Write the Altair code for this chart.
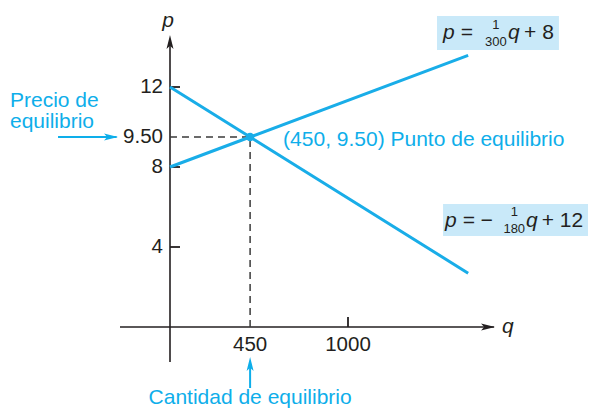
import altair as alt
import pandas as pd

# ---- data ----
q_supply = [0, 450, 1675]
p_supply = [8.0, 9.5, 13.58]
q_demand = [0, 450, 1675]
p_demand = [12.0, 9.5, 2.69]
p_tick_vals = [4, 8, 12]
p_label_vals = [12, 9.5, 8, 4]
p_label_txt = ["12", "9.50", "8", "4"]
q_tick_vals = [1000]
q_label_vals = [450, 1000]
q_label_txt = ["450", "1000"]
eq_q, eq_p = 450, 9.5

BLUE = "#19ade8"
TBLUE = "#0eaeea"
INK = "#231f20"
BOX = "#c9e9f9"
FONT = "Liberation Sans"
ARROW = "M1,0L-1,-0.5L-0.55,0L-1,0.5Z"

W, H = 580, 404
XS = alt.Scale(domain=[-910.11, 2348.31], nice=False, zero=False)
YS = alt.Scale(domain=[-4.25, 15.95], nice=False, zero=False)


def X(f):
    return alt.X(f, type="quantitative", scale=XS, axis=None)


def Y(f):
    return alt.Y(f, type="quantitative", scale=YS, axis=None)


def XD(v):
    return alt.XDatum(datum=v, type="quantitative", scale=XS, axis=None)


def YD(v):
    return alt.YDatum(datum=v, type="quantitative", scale=YS, axis=None)


one = pd.DataFrame({"k": [0]})


def base():
    return alt.Chart(one)


def text(t, q, p, size=21, color=INK, align="left", style="normal", dx=0, dy=0):
    return base().mark_text(
        text=t, font=FONT, fontSize=size, color=color, align=align,
        baseline="middle", fontStyle=style, dx=dx, dy=dy
    ).encode(x=XD(q), y=YD(p))


def hrule(q1, q2, p, color=INK, width=1.5, dash=None):
    kw = dict(color=color, strokeWidth=width)
    if dash:
        kw["strokeDash"] = dash
    return base().mark_rule(**kw).encode(x=XD(q1), x2=alt.X2Datum(datum=q2), y=YD(p))


def vrule(q, p1, p2, color=INK, width=1.5, dash=None):
    kw = dict(color=color, strokeWidth=width)
    if dash:
        kw["strokeDash"] = dash
    return base().mark_rule(**kw).encode(x=XD(q), y=YD(p1), y2=alt.Y2Datum(datum=p2))


def head(q, p, color, angle=0, r=7, xo=0, yo=0):
    return base().mark_point(
        shape=ARROW, filled=True, color=color, size=(2 * r) ** 2, opacity=1,
        angle=angle, xOffset=xo, yOffset=yo, strokeWidth=0
    ).encode(x=XD(q), y=YD(p))


def box(q1, q2, p1, p2):
    return base().mark_rect(color=BOX).encode(
        x=XD(q1), x2=alt.X2Datum(datum=q2), y=YD(p1), y2=alt.Y2Datum(datum=p2)
    )


supply = pd.DataFrame({"q": q_supply, "p": p_supply})
demand = pd.DataFrame({"q": q_demand, "p": p_demand})
yt = pd.DataFrame({"p": p_tick_vals, "q": [0] * len(p_tick_vals)})
xt = pd.DataFrame({"q": q_tick_vals, "p": [0] * len(q_tick_vals)})
ylab = pd.DataFrame({"p": p_label_vals, "t": p_label_txt})
xlab = pd.DataFrame({"q": q_label_vals, "t": q_label_txt})
eq = pd.DataFrame({"q": [eq_q], "p": [eq_p]})

layers = [
    box(1500, 2185, 15.55, 13.85),
    box(1534, 2348.31, 6.15, 4.55),
    # axes
    hrule(-281, 1820, 0, width=1.6),
    vrule(0, -1.75, 14.3, width=1.6),
    head(1826, 0, INK, xo=-7),
    head(0, 14.6, INK, angle=270, yo=7),
    alt.Chart(yt).mark_rule(color=INK, strokeWidth=1.8, x2Offset=10).encode(
        x=X("q"), x2="q", y=Y("p")),
    alt.Chart(xt).mark_rule(color=INK, strokeWidth=1.8, y2Offset=-10).encode(
        x=X("q"), y=Y("p"), y2="p"),
    alt.Chart(ylab).mark_text(font=FONT, fontSize=20.5, color=INK, align="right",
                              baseline="middle", dx=-7).encode(
        x=XD(0), y=Y("p"), text="t:N"),
    alt.Chart(xlab).mark_text(font=FONT, fontSize=20.5, color=INK, align="center",
                              baseline="middle", dy=18).encode(
        x=X("q"), y=YD(0), text="t:N"),
    text("p", 0, 15.3, style="italic", align="center", dx=-2),
    text("q", 1865, 0, style="italic"),
    # dashed guides
    hrule(0, eq_q, eq_p, color="#3a3a3a", width=1.5, dash=[7, 5]),
    vrule(eq_q, 0, eq_p, color="#3a3a3a", width=1.5, dash=[7, 5]),
    # curves
    alt.Chart(supply).mark_line(color=BLUE, strokeWidth=3).encode(x=X("q"), y=Y("p")),
    alt.Chart(demand).mark_line(color=BLUE, strokeWidth=3).encode(x=X("q"), y=Y("p")),
    alt.Chart(eq).mark_point(filled=True, color=BLUE, size=70, opacity=1).encode(
        x=X("q"), y=Y("p")),
    # annotations
    text("(450, 9.50) Punto de equilibrio", eq_q, eq_p, color=TBLUE, dx=33, dy=3),
    text("Precio de", -899, 11.3, color=TBLUE),
    text("equilibrio", -899, 10.25, color=TBLUE),
    hrule(-629, -300, eq_p, color=TBLUE, width=2),
    head(-292, eq_p, TBLUE, xo=-7),
    text("Cantidad de equilibrio", eq_q, -3.55, color=TBLUE, align="center"),
    vrule(eq_q, -3.05, -1.8, color=TBLUE, width=2),
    head(eq_q, -1.5, TBLUE, angle=270, yo=7),
    # equations
    text("p =", 1534, 14.7, style="italic"),
    text("1", 1831, 15.1, size=13, align="center"),
    text("300", 1831, 14.25, size=13, align="center"),
    text("q", 1899, 14.7, style="italic"),
    text("+ 8", 1989, 14.7),
    text("p = \u2212", 1545, 5.3, style="italic"),
    text("1", 1934, 5.75, size=13, align="center"),
    text("180", 1934, 4.9, size=13, align="center"),
    text("q", 2000, 5.3, style="italic"),
    text("+ 12", 2088, 5.3),
]

chart = alt.layer(*layers).properties(
    width=W, height=H, padding=0, autosize="none"
).configure_view(stroke=None)

chart.save("out.html", embed_options={"renderer": "svg", "actions": False})
